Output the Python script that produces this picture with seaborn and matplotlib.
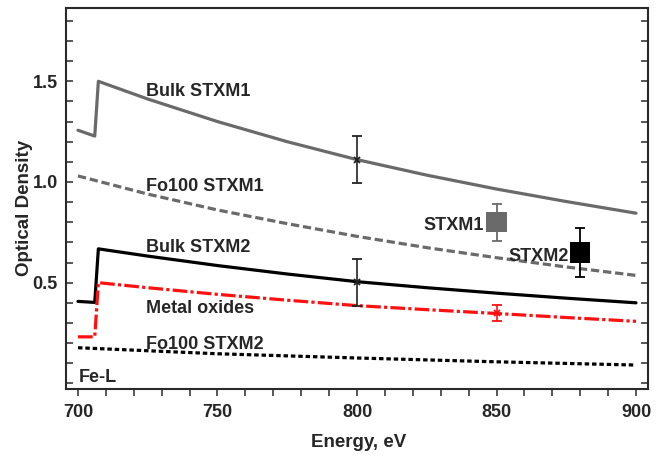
import matplotlib
matplotlib.use("Agg")
import matplotlib.pyplot as plt
import numpy as np
import pandas as pd
import seaborn as sns
from matplotlib.ticker import MultipleLocator

# ---- data ----
bulk1_e = [700, 706, 707.3, 725, 750, 775, 800, 825, 850, 875, 900]
bulk1_od = [1.257, 1.228, 1.50, 1.412, 1.300, 1.200, 1.111, 1.034, 0.965, 0.903, 0.845]

fo1_e = [700, 725, 750, 775, 800, 825, 850, 875, 900]
fo1_od = [1.03, 0.94, 0.861, 0.793, 0.73, 0.674, 0.624, 0.578, 0.536]

bulk2_e = [700, 706, 707.3, 725, 750, 775, 800, 825, 850, 875, 900]
bulk2_od = [0.407, 0.402, 0.668, 0.632, 0.585, 0.543, 0.505, 0.475, 0.448, 0.423, 0.40]

metal_e = [700, 706, 707.3, 725, 750, 775, 800, 825, 850, 875, 900]
metal_od = [0.231, 0.231, 0.50, 0.475, 0.442, 0.413, 0.386, 0.366, 0.347, 0.327, 0.308]

fo2_e = [700, 725, 750, 800, 850, 900]
fo2_od = [0.177, 0.162, 0.147, 0.126, 0.107, 0.091]

# error bars on model curves
cerr_e = [800, 800, 850]
cerr_od = [1.111, 0.505, 0.35]
cerr_lo = [0.994, 0.382, 0.31]
cerr_hi = [1.229, 0.62, 0.391]

# measured points
meas_names = ["STXM1", "STXM2"]
meas_e = [850, 880]
meas_od = [0.80, 0.65]
meas_lo = [0.708, 0.529]
meas_hi = [0.891, 0.771]

# ---- styling ----
sns.set_theme(style="ticks")
plt.rcParams["font.family"] = ["Liberation Sans", "DejaVu Sans"]
plt.rcParams["font.weight"] = "bold"
plt.rcParams["axes.labelweight"] = "bold"

GRAY = "#6a6a6a"
RED = "#ff1010"

fig = plt.figure(figsize=(6.65, 4.59), dpi=100)
ax = fig.add_axes([66 / 665, 1 - 389 / 459, (648 - 66) / 665, (389 - 8) / 459])

def line(e, od, color, ls):
    df = pd.DataFrame({"E": e, "OD": od})
    sns.lineplot(data=df, x="E", y="OD", ax=ax, color=color, lw=2.3,
                 linestyle=ls, estimator=None, sort=False)

line(bulk1_e, bulk1_od, GRAY, "-")
line(fo1_e, fo1_od, GRAY, (0, (2.6, 1.2)))
line(bulk2_e, bulk2_od, "black", "-")
line(metal_e, metal_od, RED, (0, (4.6, 1.0, 1.0, 1.0)))
line(fo2_e, fo2_od, "black", (0, (1.4, 0.9)))

# error bars on curves
cols = ["#222222", "#222222", RED]
for e, y, lo, hi, c in zip(cerr_e, cerr_od, cerr_lo, cerr_hi, cols):
    ax.errorbar([e], [y], yerr=[[y - lo], [hi - y]], fmt="x", color=c,
                ms=5, mew=1.3, elinewidth=1.2, capsize=3.5, capthick=1.2, zorder=4)

# measured squares
mcols = [GRAY, "black"]
for e, y, lo, hi, c in zip(meas_e, meas_od, meas_lo, meas_hi, mcols):
    ax.errorbar([e], [y], yerr=[[y - lo], [hi - y]], fmt="none", ecolor=c,
                elinewidth=1.3, capsize=3.5, capthick=1.3, zorder=4)
mdf = pd.DataFrame({"E": meas_e, "OD": meas_od, "name": meas_names})
sns.scatterplot(data=mdf, x="E", y="OD", hue="name", palette=mcols, marker="s",
                s=210, edgecolor="none", ax=ax, legend=False, zorder=5)

# in-plot labels
fs = 13
ax.text(724.5, 1.426, "Bulk STXM1", fontsize=fs, fontweight="bold", va="baseline")
ax.text(724.5, 0.955, "Fo100 STXM1", fontsize=fs, fontweight="bold", va="baseline")
ax.text(724.5, 0.652, "Bulk STXM2", fontsize=fs, fontweight="bold", va="baseline")
ax.text(724.5, 0.348, "Metal oxides", fontsize=fs, fontweight="bold", va="baseline")
ax.text(724.5, 0.172, "Fo100 STXM2", fontsize=fs, fontweight="bold", va="baseline")
ax.text(700.2, 0.005, "Fe-L", fontsize=fs, fontweight="bold", va="baseline")
ax.text(845.5, 0.762, "STXM1", fontsize=fs, fontweight="bold", va="baseline", ha="right")
ax.text(876.0, 0.609, "STXM2", fontsize=fs, fontweight="bold", va="baseline", ha="right")

# axes
ax.set_xlim(695.7, 904.3)
ax.set_ylim(-0.028, 1.864)
ax.xaxis.set_major_locator(MultipleLocator(50))
ax.xaxis.set_minor_locator(MultipleLocator(10))
ax.yaxis.set_major_locator(MultipleLocator(0.5))
ax.yaxis.set_minor_locator(MultipleLocator(0.1))
ax.set_yticks([0.5, 1.0, 1.5])
ax.set_yticklabels(["0.5", "1.0", "1.5"])
ax.set_xticks([700, 750, 800, 850, 900])
ax.set_xticklabels(["700", "750", "800", "850", "900"])

for s in ax.spines.values():
    s.set_linewidth(1.5)
    s.set_color("#2a2a2a")
    s.set_visible(True)

ax.tick_params(axis="y", which="both", direction="in", left=True, right=True,
               length=5, width=1.1, color="#2a2a2a", labelsize=13, pad=6)
ax.tick_params(axis="x", which="both", direction="out", top=False, bottom=True,
               length=5, width=1.1, color="#2a2a2a", labelsize=13, pad=6)
for lab in ax.get_xticklabels() + ax.get_yticklabels():
    lab.set_fontweight("bold")

ax.set_xlabel("Energy, eV", fontsize=13.5, fontweight="bold")
ax.set_ylabel("Optical Density", fontsize=13.5, fontweight="bold")
ax.xaxis.set_label_coords(0.502, -0.117)
ax.yaxis.set_label_coords(-0.056, 0.475)

fig.savefig("out.png", dpi=100)
